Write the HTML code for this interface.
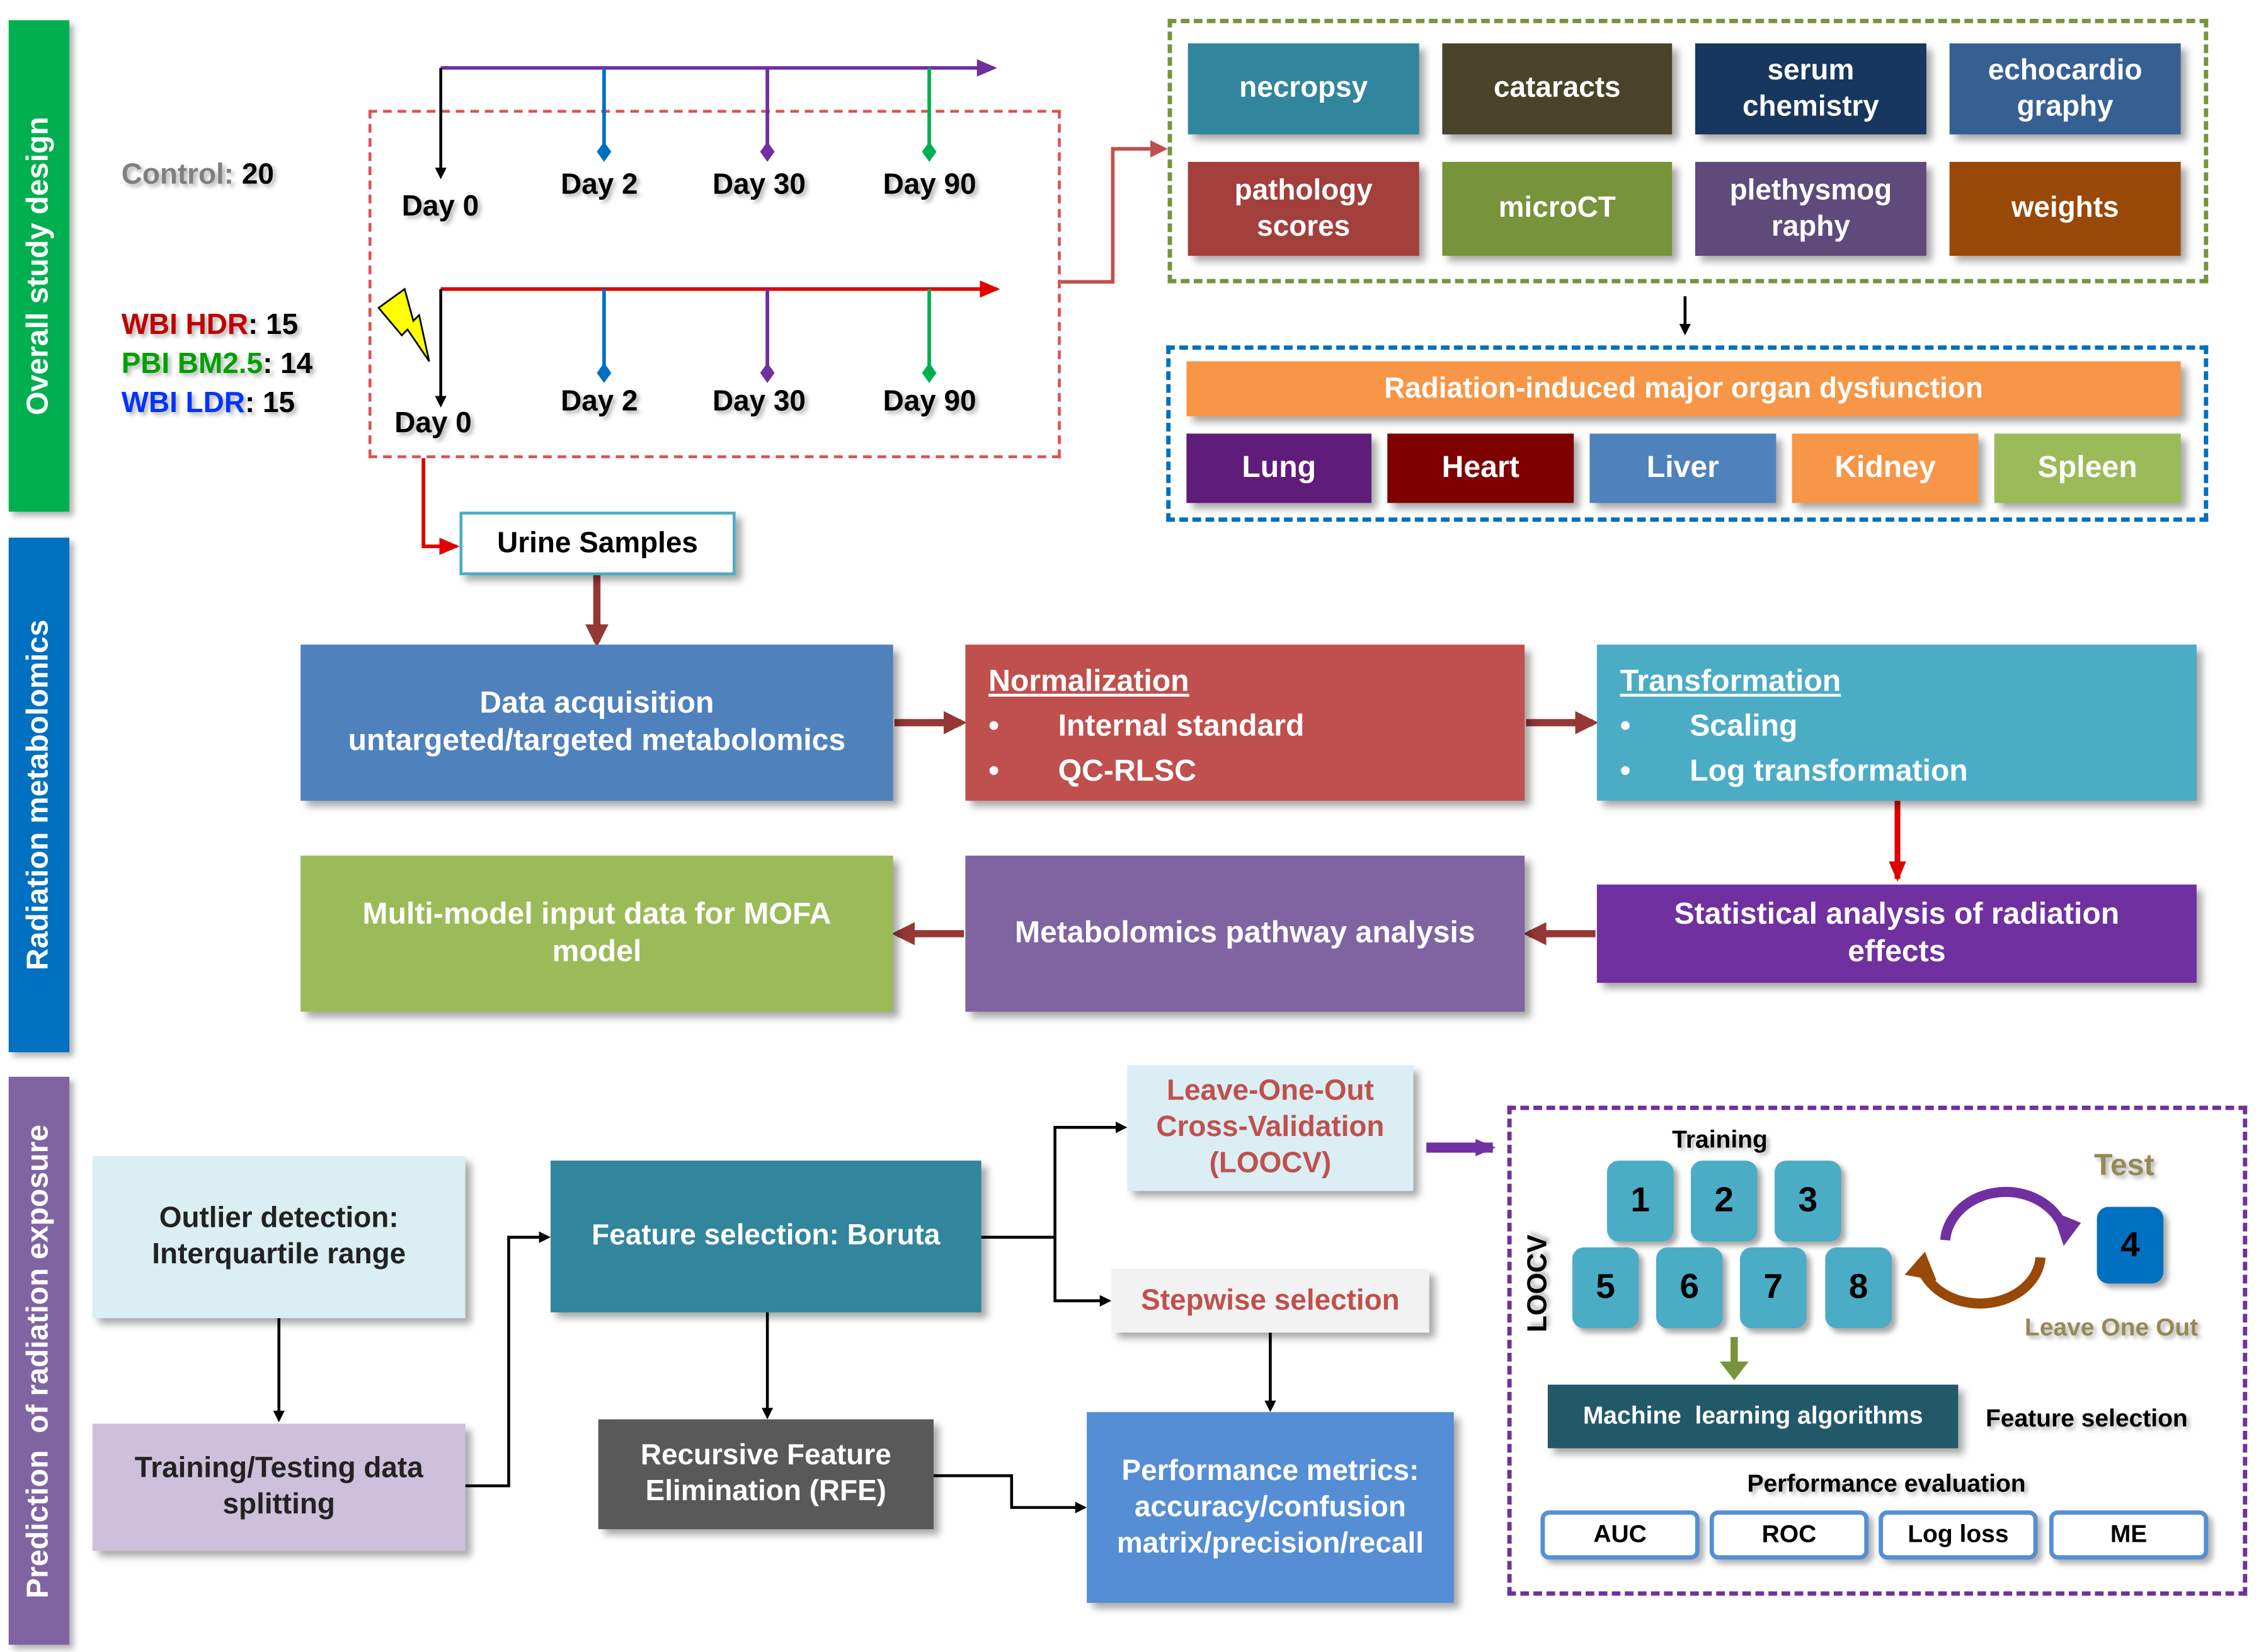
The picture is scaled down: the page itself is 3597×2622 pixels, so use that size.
<!DOCTYPE html>
<html><head><meta charset="utf-8">
<style>
html,body{margin:0;padding:0;background:#fff;}
#wrap{position:absolute;left:0;top:0;width:1568px;height:1143px;transform:scale(2.2940);transform-origin:0 0;font-family:"Liberation Sans",sans-serif;font-weight:bold;overflow:hidden;}
.b{position:absolute;display:flex;align-items:center;justify-content:center;text-align:center;color:#fff;box-shadow:4px 4px 5px rgba(0,0,0,0.35);box-sizing:border-box;line-height:1.25;}
.t{position:absolute;white-space:nowrap;text-shadow:2px 2px 3px rgba(0,0,0,0.3);}
.side{position:absolute;left:6px;width:42px;color:#fff;box-shadow:3px 3px 4px rgba(0,0,0,0.3);}
.side span{position:absolute;left:50%;top:50%;transform:translate(-50%,-50%) rotate(-90deg);white-space:nowrap;font-size:21px;}
.dash{position:absolute;box-sizing:border-box;}
.tile{position:absolute;width:46px;height:56px;border-radius:8px;background:#4BACC6;color:#000;font-size:24px;display:flex;align-items:center;justify-content:center;box-shadow:3px 3px 4px rgba(0,0,0,0.35);}
.btn{position:absolute;top:1045px;width:110px;height:34px;border:3px solid #558ED5;border-radius:6px;box-sizing:border-box;background:#fff;color:#000;font-size:17px;display:flex;align-items:center;justify-content:center;box-shadow:3px 3px 4px rgba(0,0,0,0.3);}
</style></head><body><div id="wrap">

<div class="side" style="top:14px;height:340px;background:#00B050"><span>Overall study design</span></div>
<div class="side" style="top:372px;height:356px;background:#0070C0"><span>Radiation metabolomics</span></div>
<div class="side" style="top:745px;height:393px;background:#8064A2"><span>Prediction&nbsp; of radiation exposure</span></div>

<div class="t" style="left:84px;top:110px;font-size:20px;color:#7F7F7F">Control: <span style="color:#000">20</span></div>
<div class="t" style="left:84px;top:214px;font-size:20px;color:#C00000">WBI HDR<span style="color:#000">: 15</span></div>
<div class="t" style="left:84px;top:241px;font-size:20px;color:#00A000">PBI BM2.5<span style="color:#000">: 14</span></div>
<div class="t" style="left:84px;top:268px;font-size:20px;color:#0033FF">WBI LDR<span style="color:#000">: 15</span></div>

<div class="dash" style="left:255px;top:76px;width:479px;height:241px;border:2.5px dashed #D9534F"></div>
<div class="dash" style="left:808px;top:13px;width:720px;height:183px;border:3px dashed #77933C"></div>
<div class="dash" style="left:807px;top:239px;width:721px;height:122px;border:3px dashed #0070C0"></div>
<div class="dash" style="left:1043px;top:765px;width:512px;height:339px;border:3px dashed #7030A0"></div>

<svg style="position:absolute;left:0;top:0" width="1568" height="1143">
<defs>
<marker id="ak" markerWidth="8" markerHeight="8" refX="6" refY="4" orient="auto" markerUnits="userSpaceOnUse"><path d="M0,0L8,4L0,8z" fill="#000"/></marker>
<marker id="ap" markerWidth="14" markerHeight="12" refX="12" refY="6" orient="auto" markerUnits="userSpaceOnUse"><path d="M0,0L14,6L0,12z" fill="#7030A0"/></marker>
<marker id="ar" markerWidth="14" markerHeight="12" refX="12" refY="6" orient="auto" markerUnits="userSpaceOnUse"><path d="M0,0L14,6L0,12z" fill="#E00000"/></marker>
<marker id="ar2" markerWidth="12" markerHeight="12" refX="10" refY="6" orient="auto" markerUnits="userSpaceOnUse"><path d="M0,0L12,6L0,12z" fill="#C0504D"/></marker>
<marker id="abr" markerWidth="16" markerHeight="16" refX="12" refY="8" orient="auto" markerUnits="userSpaceOnUse"><path d="M0,0L16,8L0,16z" fill="#953735"/></marker>
</defs>
<g stroke-width="2.5" fill="none">
<line x1="305" y1="47" x2="688" y2="47" stroke="#7030A0" marker-end="url(#ap)"/>
<line x1="305" y1="47" x2="305" y2="122" stroke="#000" stroke-width="2" marker-end="url(#ak)"/>
<line x1="418" y1="47" x2="418" y2="103" stroke="#0070C0"/>
<line x1="531" y1="47" x2="531" y2="103" stroke="#7030A0"/>
<line x1="643" y1="47" x2="643" y2="103" stroke="#00B050"/>
<line x1="305" y1="200" x2="690" y2="200" stroke="#E00000" marker-end="url(#ar)"/>
<line x1="305" y1="200" x2="305" y2="280" stroke="#000" stroke-width="2" marker-end="url(#ak)"/>
<line x1="418" y1="200" x2="418" y2="256" stroke="#0070C0"/>
<line x1="531" y1="200" x2="531" y2="256" stroke="#7030A0"/>
<line x1="643" y1="200" x2="643" y2="256" stroke="#00B050"/>
<polyline points="734,195 770,195 770,103 806,103" stroke="#C0504D" marker-end="url(#ar2)"/>
<polyline points="293,317 293,378 316,378" stroke="#E00000" marker-end="url(#ar)"/>
<line x1="1166" y1="205" x2="1166" y2="230" stroke="#000" stroke-width="2" marker-end="url(#ak)"/>
<line x1="413" y1="398" x2="413" y2="444" stroke="#953735" stroke-width="5" marker-end="url(#abr)"/>
<line x1="619" y1="500" x2="665" y2="500" stroke="#953735" stroke-width="5" marker-end="url(#abr)"/>
<line x1="1056" y1="500" x2="1102" y2="500" stroke="#953735" stroke-width="5" marker-end="url(#abr)"/>
<line x1="1313" y1="554" x2="1313" y2="608" stroke="#E00000" stroke-width="4" marker-end="url(#ar)"/>
<line x1="1104" y1="646" x2="1058" y2="646" stroke="#953735" stroke-width="5" marker-end="url(#abr)"/>
<line x1="667" y1="646" x2="621" y2="646" stroke="#953735" stroke-width="5" marker-end="url(#abr)"/>
<line x1="987" y1="794" x2="1033" y2="794" stroke="#7030A0" stroke-width="7" marker-end="url(#ap)"/>
<line x1="193" y1="912" x2="193" y2="982" stroke="#000" stroke-width="2" marker-end="url(#ak)"/>
<polyline points="322,1028 352,1028 352,856 379,856" stroke="#000" stroke-width="2" marker-end="url(#ak)"/>
<polyline points="679,856 730,856 730,780 778,780" stroke="#000" stroke-width="2" marker-end="url(#ak)"/>
<polyline points="730,856 730,900 767,900" stroke="#000" stroke-width="2" marker-end="url(#ak)"/>
<line x1="531" y1="908" x2="531" y2="980" stroke="#000" stroke-width="2" marker-end="url(#ak)"/>
<polyline points="646,1021 700,1021 700,1043 750,1043" stroke="#000" stroke-width="2" marker-end="url(#ak)"/>
<line x1="879" y1="922" x2="879" y2="975" stroke="#000" stroke-width="2" marker-end="url(#ak)"/>
<path d="M1346,858 A42,36 0 0 1 1428,850" stroke="#7030A0" stroke-width="7"/>
<path d="M1412,870 A42,34 0 0 1 1330,878" stroke="#984807" stroke-width="7"/>
<line x1="1200" y1="925" x2="1200" y2="944" stroke="#77933C" stroke-width="5"/>
</g>
<path d="M418,98l5,7l-5,7l-5,-7z" fill="#0070C0"/><path d="M531,98l5,7l-5,7l-5,-7z" fill="#7030A0"/><path d="M643,98l5,7l-5,7l-5,-7z" fill="#00B050"/>
<path d="M418,251l5,7l-5,7l-5,-7z" fill="#0070C0"/><path d="M531,251l5,7l-5,7l-5,-7z" fill="#7030A0"/><path d="M643,251l5,7l-5,7l-5,-7z" fill="#00B050"/>
<path d="M262,213 L280,200 L286,222 L290,218 L297,250 L282,228 L278,232z" fill="#FFFF00" stroke="#000" stroke-width="1.2"/>
<path d="M1420,838 L1440,846 L1428,862z" fill="#7030A0"/>
<path d="M1318,882 L1332,866 L1340,886z" fill="#984807"/>
<path d="M1190,942 L1210,942 L1200,955z" fill="#77933C"/>
</svg>

<div class="t" style="left:278px;top:132px;font-size:20px">Day 0</div>
<div class="t" style="left:388px;top:117px;font-size:20px">Day 2</div>
<div class="t" style="left:493px;top:117px;font-size:20px">Day 30</div>
<div class="t" style="left:611px;top:117px;font-size:20px">Day 90</div>
<div class="t" style="left:273px;top:282px;font-size:20px">Day 0</div>
<div class="t" style="left:388px;top:267px;font-size:20px">Day 2</div>
<div class="t" style="left:493px;top:267px;font-size:20px">Day 30</div>
<div class="t" style="left:611px;top:267px;font-size:20px">Day 90</div>

<div class="b" style="left:822px;top:30px;width:160px;height:63px;background:#31859C;font-size:20px">necropsy</div>
<div class="b" style="left:998px;top:30px;width:159px;height:63px;background:#494429;font-size:20px">cataracts</div>
<div class="b" style="left:1173px;top:30px;width:160px;height:63px;background:#17375E;font-size:20px">serum<br>chemistry</div>
<div class="b" style="left:1349px;top:30px;width:160px;height:63px;background:#376092;font-size:20px">echocardio<br>graphy</div>
<div class="b" style="left:822px;top:112px;width:160px;height:65px;background:#A33F3C;font-size:20px">pathology<br>scores</div>
<div class="b" style="left:998px;top:112px;width:159px;height:65px;background:#77933C;font-size:20px">microCT</div>
<div class="b" style="left:1173px;top:112px;width:160px;height:65px;background:#604A7B;font-size:20px">plethysmog<br>raphy</div>
<div class="b" style="left:1349px;top:112px;width:160px;height:65px;background:#984807;font-size:20px">weights</div>

<div class="b" style="left:821px;top:250px;width:688px;height:38px;background:#F79646;font-size:20px">Radiation-induced major organ dysfunction</div>
<div class="b" style="left:821px;top:300px;width:128px;height:48px;background:#5F1C7A;font-size:21px">Lung</div>
<div class="b" style="left:960px;top:300px;width:129px;height:48px;background:#7F0000;font-size:21px">Heart</div>
<div class="b" style="left:1100px;top:300px;width:129px;height:48px;background:#4F81BD;font-size:21px">Liver</div>
<div class="b" style="left:1240px;top:300px;width:129px;height:48px;background:#F79646;font-size:21px">Kidney</div>
<div class="b" style="left:1380px;top:300px;width:129px;height:48px;background:#9BBB59;font-size:21px">Spleen</div>

<div class="b" style="left:318px;top:354px;width:191px;height:44px;background:#fff;border:2px solid #4BACC6;color:#000;font-size:20px">Urine Samples</div>

<div class="b" style="left:208px;top:446px;width:410px;height:108px;background:#4F81BD;font-size:21px">Data acquisition<br>untargeted/targeted metabolomics</div>
<div class="b" style="left:668px;top:446px;width:387px;height:108px;background:#C0504D;font-size:21px;display:block;text-align:left;padding:10px 16px;line-height:31px"><u>Normalization</u><br>•&nbsp;&nbsp;&nbsp;&nbsp;&nbsp;&nbsp;&nbsp;Internal standard<br>•&nbsp;&nbsp;&nbsp;&nbsp;&nbsp;&nbsp;&nbsp;QC-RLSC</div>
<div class="b" style="left:1105px;top:446px;width:415px;height:108px;background:#4BACC6;font-size:21px;display:block;text-align:left;padding:10px 16px;line-height:31px"><u>Transformation</u><br>•&nbsp;&nbsp;&nbsp;&nbsp;&nbsp;&nbsp;&nbsp;Scaling<br>•&nbsp;&nbsp;&nbsp;&nbsp;&nbsp;&nbsp;&nbsp;Log transformation</div>
<div class="b" style="left:208px;top:592px;width:410px;height:108px;background:#9BBB59;font-size:21px">Multi-model input data for MOFA<br>model</div>
<div class="b" style="left:668px;top:592px;width:387px;height:108px;background:#8064A2;font-size:21px">Metabolomics pathway analysis</div>
<div class="b" style="left:1105px;top:612px;width:415px;height:68px;background:#7030A0;font-size:21px">Statistical analysis of radiation<br>effects</div>

<div class="b" style="left:64px;top:800px;width:258px;height:112px;background:#DAEEF3;color:#222;font-size:20px">Outlier detection:<br>Interquartile range</div>
<div class="b" style="left:64px;top:985px;width:258px;height:88px;background:#CCC0DA;color:#222;font-size:20px">Training/Testing data<br>splitting</div>
<div class="b" style="left:381px;top:803px;width:298px;height:105px;background:#31859C;font-size:20px">Feature selection: Boruta</div>
<div class="b" style="left:414px;top:982px;width:232px;height:76px;background:#595959;font-size:20px">Recursive Feature<br>Elimination (RFE)</div>
<div class="b" style="left:780px;top:737px;width:198px;height:87px;background:#DAEEF3;color:#C0504D;font-size:20px">Leave-One-Out<br>Cross-Validation<br>(LOOCV)</div>
<div class="b" style="left:769px;top:878px;width:220px;height:44px;background:#F2F2F2;color:#C0504D;font-size:20px">Stepwise selection</div>
<div class="b" style="left:752px;top:977px;width:254px;height:132px;background:#558ED5;font-size:20px">Performance metrics:<br>accuracy/confusion<br>matrix/precision/recall</div>

<div class="t" style="left:1157px;top:779px;font-size:17px;color:#000">Training</div>
<div class="t" style="left:1449px;top:795px;font-size:21px;color:#948A54">Test</div>
<div class="t" style="left:1401px;top:909px;font-size:17px;color:#948A54">Leave One Out</div>
<div class="t" style="left:1065px;top:888px;font-size:19px;transform:translate(-50%,-50%) rotate(-90deg)">LOOCV</div>
<div class="tile" style="left:1112px;top:803px">1</div>
<div class="tile" style="left:1170px;top:803px">2</div>
<div class="tile" style="left:1228px;top:803px">3</div>
<div class="tile" style="left:1088px;top:863px">5</div>
<div class="tile" style="left:1146px;top:863px">6</div>
<div class="tile" style="left:1204px;top:863px">7</div>
<div class="tile" style="left:1263px;top:863px">8</div>
<div class="tile" style="left:1451px;top:835px;height:53px;background:#0070C0">4</div>
<div class="b" style="left:1071px;top:958px;width:284px;height:44px;background:#215968;font-size:17px">Machine&nbsp; learning algorithms</div>
<div class="t" style="left:1374px;top:972px;font-size:17px">Feature selection</div>
<div class="t" style="left:1209px;top:1017px;font-size:17px">Performance evaluation</div>
<div class="btn" style="left:1066px">AUC</div>
<div class="btn" style="left:1183px">ROC</div>
<div class="btn" style="left:1300px">Log loss</div>
<div class="btn" style="left:1418px">ME</div>

</div></body></html>
